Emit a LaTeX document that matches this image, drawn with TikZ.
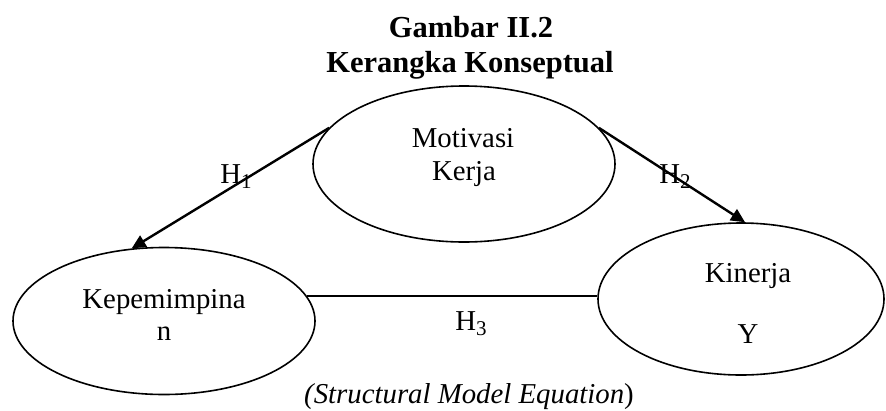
\documentclass[tikz,border=0pt]{standalone}
\usepackage{fontspec}
\setmainfont{Liberation Serif}
\usetikzlibrary{shapes.geometric, arrows.meta}
\newcommand{\hsub}[1]{\raisebox{-5pt}{\fontsize{21}{21}\selectfont #1}}
\tikzset{
  var/.style={draw, ellipse, line width=1.6pt, inner sep=0pt},
  txt/.style={anchor=base, inner sep=0pt, font=\fontsize{28.8}{34}\selectfont},
  ttl/.style={anchor=base, inner sep=0pt, font=\fontsize{30.5}{34}\selectfont\bfseries},
  hyp/.style={line width=2.4pt, -{Triangle[length=14pt,width=13pt]}}}

\begin{document}
\begin{tikzpicture}[x=1pt,y=-1pt]
  \useasboundingbox (0,0) rectangle (886,410);
    \node [ttl] (gbr) at (471,37) {Gambar II.2};
    \node [ttl] (krk) at (470,72) {Kerangka Konseptual};
  % the three variables
  \node [var, minimum width=302pt, minimum height=156pt] (mot) at (464,164) {};
  \node [var, minimum width=302pt, minimum height=147pt] (kep) at (164,321) {};
  \node [var, minimum width=286pt, minimum height=152pt] (kin) at (741,299) {};
      \node [txt] (mot1) at (463,147) {Motivasi};
      \node [txt] (mot2) at (464,180) {Kerja};
      \node [txt] (kep1) at (164,308) {Kepemimpina};
      \node [txt] (kep2) at (164,340) {n};
      \node [txt] (kin1) at (748,282) {Kinerja};
      \node [txt] (kin2) at (748,343) {Y};
  % hypotheses
  \draw [hyp] (mot.165) -- (kep.114);
  \draw [hyp] (mot.15) -- (kin.87);
  \draw [line width=2.4pt] (kep.10) -- (kep.10 -| kin.west);
      \node [txt] (h1) at (236,183) {H\hsub{1}};
      \node [txt] (h2) at (675,183) {H\hsub{2}};
      \node [txt] (h3) at (471,330) {H\hsub{3}};
    \node [txt] (sme) at (469,403) {\textit{(Structural Model Equation})};
\end{tikzpicture}
\end{document}
